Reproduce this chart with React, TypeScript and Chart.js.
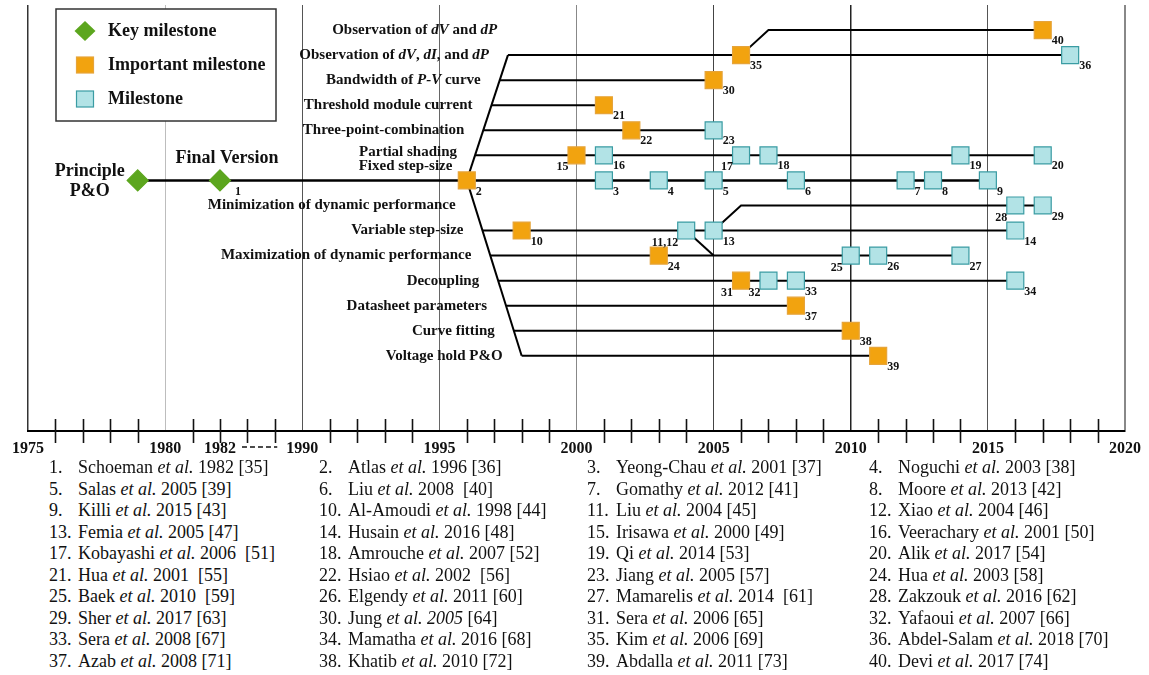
import React, { useEffect, useRef } from 'react';
import { Chart, registerables } from 'chart.js';

Chart.register(...registerables);

const SERIF = '"Liberation Serif", "Times New Roman", Times, serif';

// ---- Axis (broken time axis: 1975–1982, then 1990–2020) ----
const TICK_YEARS = [1975, 1980, 1982, 1990, 1995, 2000, 2005, 2010, 2015, 2020];
const axisPos = (year: number) => (year <= 1982 ? year - 1975 : year - 1980);

// ---- Rows (top to bottom) ----
const ROW_LABELS = [
  'Observation of *dV* and *dP*',
  'Observation of *dV*, *dI*, and *dP*',
  'Bandwidth of *P-V* curve',
  'Threshold module current',
  'Three-point-combination',
  'Partial shading',
  'Fixed step-size',
  'Minimization of dynamic performance',
  'Variable step-size',
  'Maximization of dynamic performance',
  'Decoupling',
  'Datasheet parameters',
  'Curve fitting',
  'Voltage hold P&O',
];

// ---- Milestones: [label, year, row] ----
const KEY_MILESTONES: [string, number, number][] = [
  ['', 1979, 6],
  ['1', 1982, 6],
];
const KEY_NAMES = ['Principle\nP&O', 'Final Version'];

const IMPORTANT_MILESTONES: [string, number, number][] = [
  ['2', 1996, 6],
  ['10', 1998, 8],
  ['15', 2000, 5],
  ['21', 2001, 3],
  ['22', 2002, 4],
  ['24', 2003, 9],
  ['30', 2005, 2],
  ['31', 2006, 10],
  ['35', 2006, 1],
  ['37', 2008, 11],
  ['38', 2010, 12],
  ['39', 2011, 13],
  ['40', 2017, 0],
];

const MILESTONES: [string, number, number][] = [
  ['3', 2001, 6],
  ['4', 2003, 6],
  ['5', 2005, 6],
  ['6', 2008, 6],
  ['7', 2012, 6],
  ['8', 2013, 6],
  ['9', 2015, 6],
  ['11,12', 2004, 8],
  ['13', 2005, 8],
  ['14', 2016, 8],
  ['16', 2001, 5],
  ['17', 2006, 5],
  ['18', 2007, 5],
  ['19', 2014, 5],
  ['20', 2017, 5],
  ['23', 2005, 4],
  ['25', 2010, 9],
  ['26', 2011, 9],
  ['27', 2014, 9],
  ['28', 2016, 7],
  ['29', 2017, 7],
  ['32', 2007, 10],
  ['33', 2008, 10],
  ['34', 2016, 10],
  ['36', 2018, 1],
];

// ---- Connecting lines: [year, row] ----
const MAIN_LINE: [number, number][] = [[1979, 6], [1982, 6], [1996, 6], [2015, 6]];
const UPPER_TRUNK: [number, number][] = [[1996, 6], [1997.5, 1]];
const LOWER_TRUNK: [number, number][] = [[1996, 6], [1998, 13]];
const BRANCHES: [number, number][][] = [
  [[2006, 1], [2007, 0], [2017, 0]],
  [[1997.5, 1], [2018, 1]],
  [[1997.2, 2], [2005, 2]],
  [[1996.9, 3], [2001, 3]],
  [[1996.6, 4], [2005, 4]],
  [[1996.3, 5], [2017, 5]],
  [[2005, 8], [2006, 7], [2017, 7]],
  [[1996.57, 8], [2016, 8]],
  [[2004, 8], [2005, 9]],
  [[1996.86, 9], [2014, 9]],
  [[1997.14, 10], [2016, 10]],
  [[1997.43, 11], [2008, 11]],
  [[1997.71, 12], [2010, 12]],
  [[1998, 13], [2011, 13]],
];

// ---- Reference list ----
const REFERENCES = [
  'Schoeman *et al.* 1982 [35]', 'Atlas *et al.* 1996 [36]', 'Yeong-Chau *et al.* 2001 [37]', 'Noguchi *et al.* 2003 [38]',
  'Salas *et al.* 2005 [39]', 'Liu *et al.* 2008  [40]', 'Gomathy *et al.* 2012 [41]', 'Moore *et al.* 2013 [42]',
  'Killi *et al.* 2015 [43]', 'Al-Amoudi *et al.* 1998 [44]', 'Liu *et al.* 2004 [45]', 'Xiao *et al.* 2004 [46]',
  'Femia *et al.* 2005 [47]', 'Husain *et al.* 2016 [48]', 'Irisawa *et al.* 2000 [49]', 'Veerachary *et al.* 2001 [50]',
  'Kobayashi *et al.* 2006  [51]', 'Amrouche *et al.* 2007 [52]', 'Qi *et al.* 2014 [53]', 'Alik *et al.* 2017 [54]',
  'Hua *et al.* 2001  [55]', 'Hsiao *et al.* 2002  [56]', 'Jiang *et al.* 2005 [57]', 'Hua *et al.* 2003 [58]',
  'Baek *et al.* 2010  [59]', 'Elgendy *et al.* 2011 [60]', 'Mamarelis *et al.* 2014  [61]', 'Zakzouk *et al.* 2016 [62]',
  'Sher *et al.* 2017 [63]', 'Jung *et al. 2005* [64]', 'Sera *et al.* 2006 [65]', 'Yafaoui *et al.* 2007 [66]',
  'Sera *et al.* 2008 [67]', 'Mamatha *et al.* 2016 [68]', 'Kim *et al.* 2006 [69]', 'Abdel-Salam *et al.* 2018 [70]',
  'Azab *et al.* 2008 [71]', 'Khatib *et al.* 2010 [72]', 'Abdalla *et al.* 2011 [73]', 'Devi *et al.* 2017 [74]',
];

// ---- Styles ----
const GREEN = '#5CA61E';
const ORANGE = '#F2A30F';
const ORANGE_EDGE = '#E6A43A';
const CYAN = '#B2E3E6';
const CYAN_EDGE = '#3A9CA3';
const GRID_STYLE: Record<number, [string, number]> = {
  0: ['#333', 1.5], 5: ['#bdbdbd', 1], 10: ['#555', 1], 15: ['#666', 1], 20: ['#888', 1],
  25: ['#444', 1], 30: ['#222', 1.5], 35: ['#555', 1], 40: ['#888', 2],
};
const LABEL_LEFT = new Set(['11,12', '15', '17', '25', '28', '31', '32']);
const ROW_LABEL_SHIFT: Record<number, number> = { 5: -3, 6: -14 };

const toPts = (arr: [number, number][]) => arr.map(([yr, row]) => ({ x: axisPos(yr), y: row }));
const tickLabel = (v: number) => {
  const yr = TICK_YEARS.find((t) => axisPos(t) === v);
  return yr === undefined ? '' : String(yr);
};

function drawRich(ctx: CanvasRenderingContext2D, text: string, xRight: number, y: number, size: number) {
  const parts = text.split('*');
  const fonts = parts.map((_, i) => `${i % 2 ? 'italic ' : ''}bold ${size}px ${SERIF}`);
  const widths = parts.map((p, i) => {
    ctx.font = fonts[i];
    return ctx.measureText(p).width;
  });
  let x = xRight - widths.reduce((a, b) => a + b, 0);
  ctx.textAlign = 'left';
  ctx.textBaseline = 'middle';
  parts.forEach((p, i) => {
    ctx.font = fonts[i];
    ctx.fillText(p, x, y);
    x += widths[i];
  });
}

const overlayPlugin = {
  id: 'timelineOverlay',
  afterDatasetsDraw(chart: any) {
    const ctx: CanvasRenderingContext2D = chart.ctx;
    const xs = chart.scales.x;
    const ys = chart.scales.y;
    ctx.save();
    ctx.fillStyle = '#111';

    // number labels next to markers
    const groups = [KEY_MILESTONES, IMPORTANT_MILESTONES, MILESTONES];
    groups.forEach((g, gi) => {
      g.forEach(([id, yr, row]) => {
        if (!id) return;
        const px = xs.getPixelForValue(axisPos(yr));
        const py = ys.getPixelForValue(row);
        ctx.font = `bold 12px ${SERIF}`;
        ctx.textBaseline = 'middle';
        if (LABEL_LEFT.has(id)) {
          ctx.textAlign = 'right';
          ctx.fillText(id, px - 8, py + 12);
        } else {
          ctx.textAlign = 'left';
          ctx.fillText(id, px + (gi === 0 ? 15 : 9), py + 11);
        }
      });
    });

    // key milestone names
    ctx.font = `bold 18px ${SERIF}`;
    ctx.textAlign = 'center';
    ctx.textBaseline = 'middle';
    {
      const [, yr0, r0] = KEY_MILESTONES[0];
      const px = xs.getPixelForValue(axisPos(yr0));
      const py = ys.getPixelForValue(r0);
      const lines = KEY_NAMES[0].split('\n');
      ctx.fillText(lines[0], px - 48, py - 9);
      ctx.fillText(lines[1], px - 48, py + 11);
      const [, yr1, r1] = KEY_MILESTONES[1];
      ctx.fillText(KEY_NAMES[1], xs.getPixelForValue(axisPos(yr1)) + 7, ys.getPixelForValue(r1) - 22);
    }

    // row labels, right-aligned against the trunk lines
    const up = toPts(UPPER_TRUNK).map((p) => ({ x: xs.getPixelForValue(p.x), y: ys.getPixelForValue(p.y) }));
    const lo = toPts(LOWER_TRUNK).map((p) => ({ x: xs.getPixelForValue(p.x), y: ys.getPixelForValue(p.y) }));
    const trunkX = (y: number, seg: { x: number; y: number }[]) =>
      seg[0].x + ((y - seg[0].y) * (seg[1].x - seg[0].x)) / (seg[1].y - seg[0].y);
    ctx.fillStyle = '#111';
    ROW_LABELS.forEach((label, row) => {
      const y = ys.getPixelForValue(row) + (ROW_LABEL_SHIFT[row] || 0);
      const seg = row <= 6 ? up : lo;
      drawRich(ctx, label, trunkX(y, seg) - 19, y, 15);
    });
    ctx.restore();
  },
  afterDraw(chart: any) {
    const ctx: CanvasRenderingContext2D = chart.ctx;
    const xs = chart.scales.x;
    const area = chart.chartArea;
    const axisY = area.bottom;
    ctx.save();
    // crossing tick marks
    ctx.strokeStyle = '#111';
    ctx.lineWidth = 1.6;
    for (let v = 1; v < 40; v++) {
      if (v % 5 === 0) continue;
      const x = Math.round(xs.getPixelForValue(v)) + 0.5;
      ctx.beginPath();
      ctx.moveTo(x, axisY - 12);
      ctx.lineTo(x, axisY + 12);
      ctx.stroke();
    }
    // axis break dashes between 1982 and 1990
    ctx.setLineDash([5, 3]);
    ctx.lineWidth = 1.5;
    ctx.beginPath();
    ctx.moveTo(xs.getPixelForValue(axisPos(1982)) + 22, axisY + 16);
    ctx.lineTo(xs.getPixelForValue(axisPos(1990)) - 25, axisY + 16);
    ctx.stroke();
    ctx.setLineDash([]);

    // legend box
    const lx = area.left + 28;
    const ly = area.top + 4;
    ctx.fillStyle = '#fff';
    ctx.fillRect(lx, ly, 220, 112);
    ctx.strokeStyle = '#333';
    ctx.lineWidth = 1.5;
    ctx.strokeRect(lx, ly, 220, 112);
    const mx = lx + 29;
    const items: [string, number][] = [['Key milestone', 22], ['Important milestone', 56], ['Milestone', 90]];
    // diamond
    ctx.beginPath();
    ctx.moveTo(mx, ly + 22 - 10);
    ctx.lineTo(mx + 10.5, ly + 22);
    ctx.lineTo(mx, ly + 22 + 10);
    ctx.lineTo(mx - 10.5, ly + 22);
    ctx.closePath();
    ctx.fillStyle = GREEN;
    ctx.fill();
    // squares
    ctx.lineWidth = 1.2;
    ctx.fillStyle = ORANGE;
    ctx.strokeStyle = ORANGE_EDGE;
    ctx.fillRect(mx - 8.5, ly + 56 - 8, 17, 16);
    ctx.strokeRect(mx - 8.5, ly + 56 - 8, 17, 16);
    ctx.fillStyle = CYAN;
    ctx.strokeStyle = CYAN_EDGE;
    ctx.fillRect(mx - 8.5, ly + 90 - 8, 17, 16);
    ctx.strokeRect(mx - 8.5, ly + 90 - 8, 17, 16);
    ctx.fillStyle = '#111';
    ctx.font = `bold 18px ${SERIF}`;
    ctx.textAlign = 'left';
    ctx.textBaseline = 'middle';
    items.forEach(([t, dy]) => ctx.fillText(t, lx + 52, ly + dy));
    ctx.restore();
  },
};

function RefItem({ index, text }: { index: number; text: string }) {
  const parts = text.split('*');
  return (
    <div
      style={{
        position: 'absolute',
        left: [49, 319, 587, 869][index % 4],
        top: 457 + 21.5 * Math.floor(index / 4),
        whiteSpace: 'pre',
        fontFamily: SERIF,
        fontSize: 18,
        lineHeight: '21px',
        color: '#111',
      }}
    >
      <span style={{ display: 'inline-block', width: 29 }}>{index + 1}.</span>
      {parts.map((p, i) => (i % 2 ? <i key={i}>{p}</i> : <span key={i}>{p}</span>))}
    </div>
  );
}

export default function App() {
  const ref = useRef<HTMLCanvasElement | null>(null);
  useEffect(() => {
    document.body.style.margin = '0';
    if (!ref.current) return;
    const lineDs = (pts: [number, number][], width: number) => ({
      type: 'scatter' as const,
      data: toPts(pts),
      showLine: true,
      borderColor: '#000',
      borderWidth: width,
      pointRadius: 0,
      order: 2,
    });
    const markerDs = (g: [string, number, number][], style: string, r: number, fill: string, edge: string) => ({
      type: 'scatter' as const,
      data: g.map(([, yr, row]) => ({ x: axisPos(yr), y: row })),
      pointStyle: style,
      pointRadius: r,
      backgroundColor: fill,
      borderColor: edge,
      borderWidth: 1.2,
      showLine: false,
      order: 1,
    });
    const chart = new Chart(ref.current, {
      type: 'scatter',
      data: {
        datasets: [
          markerDs(KEY_MILESTONES, 'rectRot', 10.5, GREEN, GREEN),
          markerDs(IMPORTANT_MILESTONES, 'rect', 12, ORANGE, ORANGE_EDGE),
          markerDs(MILESTONES, 'rect', 12, CYAN, CYAN_EDGE),
          lineDs(MAIN_LINE, 2.5),
          lineDs(UPPER_TRUNK, 2),
          lineDs(LOWER_TRUNK, 2),
          ...BRANCHES.map((b) => lineDs(b, 2)),
        ] as any,
      },
      options: {
        responsive: false,
        animation: false,
        events: [],
        layout: { autoPadding: false, padding: { left: 28, right: 21, top: 5, bottom: 0 } },
        plugins: { legend: { display: false }, tooltip: { enabled: false } },
        scales: {
          x: {
            type: 'linear',
            min: 0,
            max: 40,
            afterBuildTicks: (s: any) => {
              s.ticks = Array.from({ length: 41 }, (_, i) => ({ value: i }));
            },
            afterFit: (s: any) => {
              s.height = 29;
            },
            ticks: {
              autoSkip: false,
              maxRotation: 0,
              padding: 8,
              color: '#111',
              font: { family: SERIF, size: 16, weight: 'bold' },
              callback: (v: any) => tickLabel(Number(v)),
            },
            grid: {
              drawTicks: false,
              color: (c: any) => (GRID_STYLE[c.tick?.value] ? GRID_STYLE[c.tick.value][0] : 'rgba(0,0,0,0)'),
              lineWidth: (c: any) => (GRID_STYLE[c.tick?.value] ? GRID_STYLE[c.tick.value][1] : 0),
            },
            border: { display: true, color: '#000', width: 2 },
          },
          y: { type: 'linear', min: -1, max: 16, reverse: true, display: false },
        },
      } as any,
      plugins: [overlayPlugin],
    });
    return () => chart.destroy();
  }, []);

  return (
    <div style={{ position: 'relative', width: 1149, height: 675, background: '#fff' }}>
      <canvas ref={ref} width={1149} height={460} style={{ position: 'absolute', left: 0, top: 0, width: 1149, height: 460 }} />
      {REFERENCES.map((t, i) => (
        <RefItem key={i} index={i} text={t} />
      ))}
    </div>
  );
}
